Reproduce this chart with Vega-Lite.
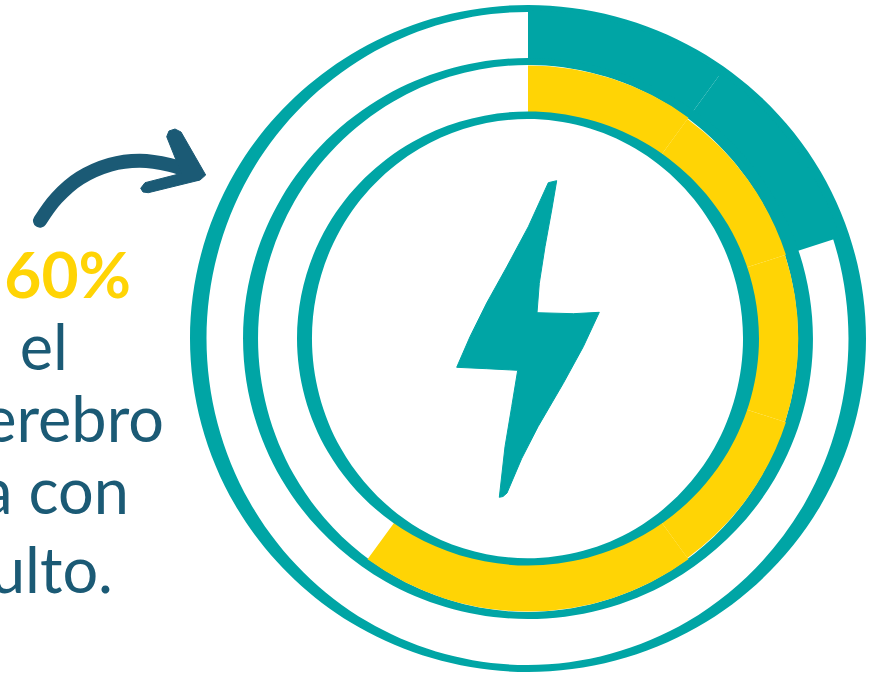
{
"$schema":"https://vega.github.io/schema/vega-lite/v6.json",
"width":870,"height":675,"padding":0,"autosize":{"type":"none"},
"background":"white",
"view":{"stroke":null},
"datasets":{
"contornos":[
{"f":"E1","i":0,"x":528,"y":-10.6},{"f":"E1","i":1,"x":704.9,"y":36.2},{"f":"E1","i":2,"x":834.4,"y":163.95},{"f":"E1","i":3,"x":881.8,"y":338.5},{"f":"E1","i":4,"x":834.4,"y":513.05},{"f":"E1","i":5,"x":704.9,"y":640.8},{"f":"E1","i":6,"x":528,"y":687.6},{"f":"E1","i":7,"x":351.1,"y":640.8},{"f":"E1","i":8,"x":221.6,"y":513.05},{"f":"E1","i":9,"x":174.2,"y":338.5},{"f":"E1","i":10,"x":221.6,"y":163.95},{"f":"E1","i":11,"x":351.1,"y":36.2},
{"f":"I1","i":0,"x":527.5,"y":-3.3},{"f":"I1","i":1,"x":695.5,"y":42.5},{"f":"I1","i":2,"x":818.5,"y":167.6},{"f":"I1","i":3,"x":863.5,"y":338.5},{"f":"I1","i":4,"x":818.5,"y":509.4},{"f":"I1","i":5,"x":695.5,"y":634.5},{"f":"I1","i":6,"x":527.5,"y":680.3},{"f":"I1","i":7,"x":359.5,"y":634.5},{"f":"I1","i":8,"x":236.5,"y":509.4},{"f":"I1","i":9,"x":191.5,"y":338.5},{"f":"I1","i":10,"x":236.5,"y":167.6},{"f":"I1","i":11,"x":359.5,"y":42.5},
{"f":"E2","i":0,"x":528,"y":44.9},{"f":"E2","i":1,"x":677.2,"y":84.2},{"f":"E2","i":2,"x":786.3,"y":191.7},{"f":"E2","i":3,"x":826.3,"y":338.5},{"f":"E2","i":4,"x":786.3,"y":485.3},{"f":"E2","i":5,"x":677.2,"y":592.8},{"f":"E2","i":6,"x":528,"y":632.1},{"f":"E2","i":7,"x":378.8,"y":592.8},{"f":"E2","i":8,"x":269.7,"y":485.3},{"f":"E2","i":9,"x":229.7,"y":338.5},{"f":"E2","i":10,"x":269.7,"y":191.7},{"f":"E2","i":11,"x":378.8,"y":84.2},
{"f":"I2","i":0,"x":528,"y":52.2},{"f":"I2","i":1,"x":669.3,"y":90.6},{"f":"I2","i":2,"x":772.7,"y":195.35},{"f":"I2","i":3,"x":810.6,"y":338.5},{"f":"I2","i":4,"x":772.7,"y":481.65},{"f":"I2","i":5,"x":669.3,"y":586.4},{"f":"I2","i":6,"x":528,"y":624.8},{"f":"I2","i":7,"x":386.7,"y":586.4},{"f":"I2","i":8,"x":283.3,"y":481.65},{"f":"I2","i":9,"x":245.4,"y":338.5},{"f":"I2","i":10,"x":283.3,"y":195.35},{"f":"I2","i":11,"x":386.7,"y":90.6},
{"f":"E3","i":0,"x":528,"y":100.9},{"f":"E3","i":1,"x":648.9,"y":132.7},{"f":"E3","i":2,"x":737.4,"y":219.7},{"f":"E3","i":3,"x":769.8,"y":338.5},{"f":"E3","i":4,"x":737.4,"y":457.3},{"f":"E3","i":5,"x":648.9,"y":544.3},{"f":"E3","i":6,"x":528,"y":576.1},{"f":"E3","i":7,"x":407.1,"y":544.3},{"f":"E3","i":8,"x":318.6,"y":457.3},{"f":"E3","i":9,"x":286.2,"y":338.5},{"f":"E3","i":10,"x":318.6,"y":219.7},{"f":"E3","i":11,"x":407.1,"y":132.7},
{"f":"I3","i":0,"x":527.5,"y":108.7},{"f":"I3","i":1,"x":640.3,"y":139.5},{"f":"I3","i":2,"x":722.9,"y":223.6},{"f":"I3","i":3,"x":753.1,"y":338.5},{"f":"I3","i":4,"x":722.9,"y":453.4},{"f":"I3","i":5,"x":640.3,"y":538},{"f":"I3","i":6,"x":527.5,"y":568.3},{"f":"I3","i":7,"x":414.7,"y":538},{"f":"I3","i":8,"x":332.1,"y":453.4},{"f":"I3","i":9,"x":301.9,"y":338.5},{"f":"I3","i":10,"x":332.1,"y":223.6},{"f":"I3","i":11,"x":414.7,"y":139.5}
],
"arcos":[
{"series":"a","start":0,"end":10,"inner":276,"outer":328},
{"series":"a","start":10,"end":20,"inner":276,"outer":328},
{"series":"b","start":0,"end":10,"inner":224,"outer":273},
{"series":"b","start":10,"end":20,"inner":224,"outer":271.2},
{"series":"b","start":20,"end":30,"inner":224,"outer":270.3},
{"series":"b","start":30,"end":40,"inner":224,"outer":271.2},
{"series":"b","start":40,"end":50,"inner":224,"outer":273},
{"series":"b","start":50,"end":60,"inner":224,"outer":273}
]
},
"layer":[
{"data":{"name":"contornos"},"transform":[{"filter":"datum.f=='E1'"}],
"mark":{"type":"line","fill":"#00a5a5","strokeWidth":0,"interpolate":"basis-closed"},
"encoding":{"x":{"field":"x","type":"quantitative","scale":{"domain":[0,870],"nice":false,"zero":false},"axis":null},"y":{"field":"y","type":"quantitative","scale":{"domain":[675,0],"nice":false,"zero":false},"axis":null},"order":{"field":"i","type":"quantitative"}}},
{"data":{"name":"contornos"},"transform":[{"filter":"datum.f=='I1'"}],
"mark":{"type":"line","fill":"#ffffff","strokeWidth":0,"interpolate":"basis-closed"},
"encoding":{"x":{"field":"x","type":"quantitative"},"y":{"field":"y","type":"quantitative"},"order":{"field":"i","type":"quantitative"}}},
{"data":{"name":"arcos"},"transform":[{"filter":"datum.series=='a'"}],
"mark":{"type":"arc","fill":"#00a5a5"},
"encoding":{
"x":{"datum":528,"type":"quantitative"},
"y":{"datum":338.5,"type":"quantitative"},
"theta":{"field":"start","type":"quantitative","stack":null,"scale":{"domain":[0,100],"range":[0,6.283185]}},
"theta2":{"field":"end"},
"radius":{"field":"outer","type":"quantitative","scale":{"type":"linear","domain":[0,338],"range":[0,338],"zero":true}},
"radius2":{"field":"inner"}
}},
{"data":{"name":"contornos"},"transform":[{"filter":"datum.f=='E2'"}],
"mark":{"type":"line","fill":"#00a5a5","strokeWidth":0,"interpolate":"basis-closed"},
"encoding":{"x":{"field":"x","type":"quantitative"},"y":{"field":"y","type":"quantitative"},"order":{"field":"i","type":"quantitative"}}},
{"data":{"name":"contornos"},"transform":[{"filter":"datum.f=='I2'"}],
"mark":{"type":"line","fill":"#ffffff","strokeWidth":0,"interpolate":"basis-closed"},
"encoding":{"x":{"field":"x","type":"quantitative"},"y":{"field":"y","type":"quantitative"},"order":{"field":"i","type":"quantitative"}}},
{"data":{"name":"arcos"},"transform":[{"filter":"datum.series=='b'"}],
"mark":{"type":"arc","fill":"#ffd405"},
"encoding":{
"x":{"datum":528,"type":"quantitative"},
"y":{"datum":338.5,"type":"quantitative"},
"theta":{"field":"start","type":"quantitative","stack":null,"scale":{"domain":[0,100],"range":[0,6.283185]}},
"theta2":{"field":"end"},
"radius":{"field":"outer","type":"quantitative","scale":{"type":"linear","domain":[0,338],"range":[0,338],"zero":true}},
"radius2":{"field":"inner"}
}},
{"data":{"name":"contornos"},"transform":[{"filter":"datum.f=='E3'"}],
"mark":{"type":"line","fill":"#00a5a5","strokeWidth":0,"interpolate":"basis-closed"},
"encoding":{"x":{"field":"x","type":"quantitative"},"y":{"field":"y","type":"quantitative"},"order":{"field":"i","type":"quantitative"}}},
{"data":{"name":"contornos"},"transform":[{"filter":"datum.f=='I3'"}],
"mark":{"type":"line","fill":"#ffffff","strokeWidth":0,"interpolate":"basis-closed"},
"encoding":{"x":{"field":"x","type":"quantitative"},"y":{"field":"y","type":"quantitative"},"order":{"field":"i","type":"quantitative"}}},
{"data":{"values":[
{"i":0,"x":548.3,"y":182.7},{"i":1,"x":556.7,"y":180.7},{"i":2,"x":551.7,"y":210},{"i":3,"x":545,"y":246.7},{"i":4,"x":539.3,"y":283.3},{"i":5,"x":537,"y":312.7},{"i":6,"x":573.3,"y":313.7},{"i":7,"x":599.3,"y":312.3},{"i":8,"x":583.3,"y":346.7},{"i":9,"x":563.3,"y":383.3},{"i":10,"x":538,"y":426.7},{"i":11,"x":521.7,"y":458.5},{"i":12,"x":507,"y":493},{"i":13,"x":503,"y":496.5},{"i":14,"x":499.3,"y":497.3},{"i":15,"x":505,"y":446.7},{"i":16,"x":511.7,"y":406.7},{"i":17,"x":517.7,"y":370.3},{"i":18,"x":486.7,"y":368.7},{"i":19,"x":456.7,"y":367.3},{"i":20,"x":470,"y":336.7},{"i":21,"x":486.7,"y":303},{"i":22,"x":506.7,"y":267},{"i":23,"x":528.3,"y":226.7},{"i":24,"x":548.3,"y":182.7}
]},
"mark":{"type":"line","fill":"#00a5a5","stroke":"#00a5a5","strokeWidth":1,"strokeJoin":"round"},
"encoding":{"x":{"field":"x","type":"quantitative"},"y":{"field":"y","type":"quantitative"},"order":{"field":"i","type":"quantitative"}}},
{"data":{"values":[
{"i":0,"x":40,"y":220.7},{"i":1,"x":56.7,"y":198},{"i":2,"x":80,"y":178},{"i":3,"x":110,"y":164.7},{"i":4,"x":140,"y":160.7},{"i":5,"x":170,"y":165},{"i":6,"x":196,"y":174}
]},
"mark":{"type":"line","stroke":"#1b5a75","strokeWidth":14,"strokeCap":"round","interpolate":"cardinal","tension":0},
"encoding":{"x":{"field":"x","type":"quantitative"},"y":{"field":"y","type":"quantitative"},"order":{"field":"i","type":"quantitative"}}},
{"data":{"values":[
{"i":0,"x":166.7,"y":136.7},{"i":1,"x":169,"y":131},{"i":2,"x":175,"y":129},{"i":3,"x":181,"y":132},{"i":4,"x":205.7,"y":175},{"i":5,"x":200,"y":180},{"i":6,"x":148.3,"y":192.7},{"i":7,"x":143,"y":192},{"i":8,"x":140.7,"y":188.3},{"i":9,"x":145,"y":182.7},{"i":10,"x":181.7,"y":173.3},{"i":11,"x":176,"y":160},{"i":12,"x":166.7,"y":136.7}
]},
"mark":{"type":"line","fill":"#1b5a75","stroke":"#1b5a75","strokeWidth":1,"strokeJoin":"round"},
"encoding":{"x":{"field":"x","type":"quantitative"},"y":{"field":"y","type":"quantitative"},"order":{"field":"i","type":"quantitative"}}},
{"data":{"values":[{"t":"60%","x":131,"y":298}]},
"mark":{"type":"text","align":"right","baseline":"alphabetic","font":"Lato","fontWeight":"bold","fontSize":64,"fill":"#ffd405"},
"encoding":{"x":{"field":"x","type":"quantitative"},"y":{"field":"y","type":"quantitative"},"text":{"field":"t"}}},
{"data":{"values":[
{"t":"el","x":68,"y":370},
{"t":"cerebro","x":164,"y":442},
{"t":"funciona con","x":129,"y":514},
{"t":"adulto.","x":113,"y":593}
]},
"mark":{"type":"text","align":"right","baseline":"alphabetic","font":"Lato","fontSize":63,"fill":"#1b5a75"},
"encoding":{"x":{"field":"x","type":"quantitative"},"y":{"field":"y","type":"quantitative"},"text":{"field":"t"}}}
]
}
